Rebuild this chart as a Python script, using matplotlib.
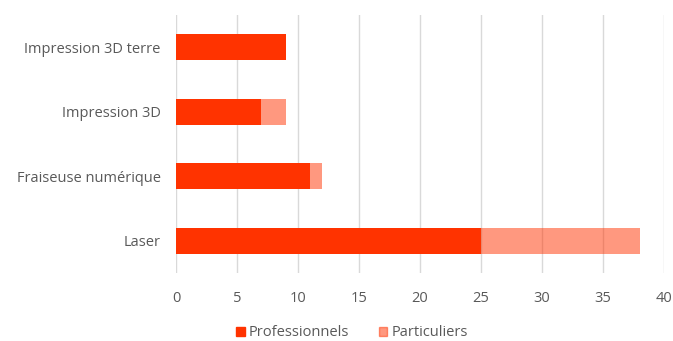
import matplotlib
matplotlib.use("Agg")
import matplotlib.pyplot as plt
from matplotlib.patches import Patch

categories = ["Laser", "Fraiseuse numérique", "Impression 3D", "Impression 3D terre"]
professionnels = [25, 11, 7, 9]
particuliers = [13, 1, 2, 0]
xticks = [0, 5, 10, 15, 20, 25, 30, 35, 40]

plt.rcParams['font.family'] = ['Open Sans', 'DejaVu Sans']
fig = plt.figure(figsize=(6.73, 3.41), dpi=100)
ax = fig.add_axes([176/673, 1-273/341, (664-176)/673, (273-15)/341])

red = "#FF3300"
y = range(len(categories))
ax.barh(y, professionnels, height=0.4, color=red, zorder=3)
ax.barh(y, particuliers, left=professionnels, height=0.4, color=red, alpha=0.5, zorder=3, linewidth=0)

ax.set_xlim(0, 40)
ax.set_ylim(-0.5, len(categories) - 0.5)
ax.set_xticks(xticks)
ax.set_yticks(list(y))
ax.set_yticklabels(categories)
ax.grid(axis='x', color='#d9d9d9', linewidth=1, zorder=0)
for s in ax.spines.values():
    s.set_visible(False)
ax.tick_params(axis='both', length=0, labelsize=10.5, colors='#595959')
ax.tick_params(axis='y', pad=11)
ax.tick_params(axis='x', pad=13)

handles = [Patch(color=red), Patch(color=red, alpha=0.5)]
fig.legend(handles, ["Professionnels", "Particuliers"], loc='center', bbox_to_anchor=(352/673, 1-333/341),
           ncol=2, frameon=False, fontsize=10.5, handlelength=0.6, handleheight=0.6, handletextpad=0.3,
           columnspacing=2.0, labelcolor='#595959')

fig.savefig("out.png", dpi=100)
